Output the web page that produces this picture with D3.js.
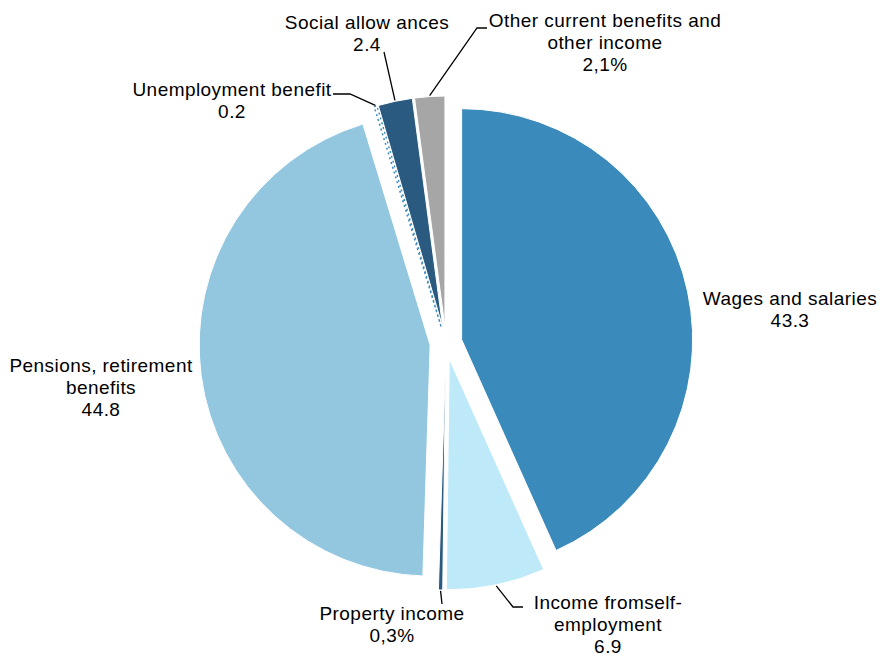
<!DOCTYPE html>
<html>
<head>
<meta charset="utf-8">
<script src="https://cdn.jsdelivr.net/npm/d3@7"></script>
<style>
  body { margin: 0; background: #fff; }
  text { font-family: "Liberation Sans", Arial, sans-serif; font-size: 19px; letter-spacing: 0.45px; fill: #000; }
</style>
</head>
<body>
<svg width="882" height="656"></svg>
<script>
// categories in clockwise order, starting at 12 o'clock
var categories = ["Wages and salaries", "Income from self-employment", "Property income",
                  "Pensions, retirement benefits", "Unemployment benefit",
                  "Social allowances", "Other current benefits and other income"];
var shares = [43.3, 6.9, 0.3, 44.8, 0.2, 2.4, 2.1];
var valueLabels = ["43.3", "6.9", "0,3%", "44.8", "0.2", "2.4", "2,1%"];
var labelLines = [
  ["Wages and salaries"],
  ["Income fromself-", "employment"],
  ["Property income"],
  ["Pensions, retirement", "benefits"],
  ["Unemployment  benefit"],
  ["Social allow ances"],
  ["Other current benefits and", "other income"]
];
var colors = ["#3a8abb", "#bde9f9", "#2b5a80", "#93c7df", "#ffffff", "#2b5a80", "#a6a6a6"];

// label placement: text centre x, first baseline y, leader elbow points
var labelLayout = [
  {x: 790, y: 305, leader: null},
  {x: 608, y: 609, leader: [[513, 607], [523, 607]]},
  {x: 392, y: 620, leader: [[442, 604]]},
  {x: 101, y: 372, leader: null},
  {x: 232, y: 96,  leader: [[350, 94], [333, 94]]},
  {x: 367, y: 29,  leader: [[384, 52]]},
  {x: 605, y: 27,  leader: [[477, 28], [487, 28]]}
];

var svg = d3.select("svg"),
    cx = 446, cy = 343,
    radius = 231,
    explode = 16,
    lineH = 22;

var pie = d3.pie().sort(null).value(function(d) { return d; });
var arc = d3.arc().innerRadius(0).outerRadius(radius);
var arcs = pie(shares);

function polar(a, r) { return [r * Math.sin(a), -r * Math.cos(a)]; }
function mid(d) { return (d.startAngle + d.endAngle) / 2; }

var g = svg.append("g").attr("transform", "translate(" + cx + "," + cy + ")");

g.selectAll("path.slice")
  .data(arcs)
  .enter().append("path")
    .attr("class", "slice")
    .attr("transform", function(d) {
      var o = polar(mid(d), explode);
      return "translate(" + o[0] + "," + o[1] + ")";
    })
    .attr("d", arc)
    .style("fill", function(d, i) { return colors[i]; })
    .style("stroke", function(d, i) { return i == 4 ? "#3a8abb" : "#fff"; })
    .style("stroke-width", function(d, i) { return i == 4 ? 1.5 : 1; })
    .style("stroke-dasharray", function(d, i) { return i == 4 ? "2,3" : null; });

// leader lines
arcs.forEach(function(d, i) {
  var lay = labelLayout[i];
  if (!lay.leader) return;
  var o = polar(mid(d), explode), p = polar(mid(d), radius + 1);
  var pts = [[cx + o[0] + p[0], cy + o[1] + p[1]]].concat(lay.leader);
  svg.append("polyline")
    .attr("points", pts.map(function(q) { return q.join(","); }).join(" "))
    .style("fill", "none")
    .style("stroke", "#000")
    .style("stroke-width", 1.3);
});

// labels
var labels = svg.selectAll("text.lbl")
  .data(arcs)
  .enter().append("text")
    .attr("class", "lbl")
    .attr("text-anchor", "middle");

labels.each(function(d, i) {
  var t = d3.select(this), lay = labelLayout[i];
  labelLines[i].concat([valueLabels[i]]).forEach(function(s, k) {
    t.append("tspan").attr("x", lay.x).attr("y", lay.y + k * lineH).text(s);
  });
});
</script>
</body>
</html>
